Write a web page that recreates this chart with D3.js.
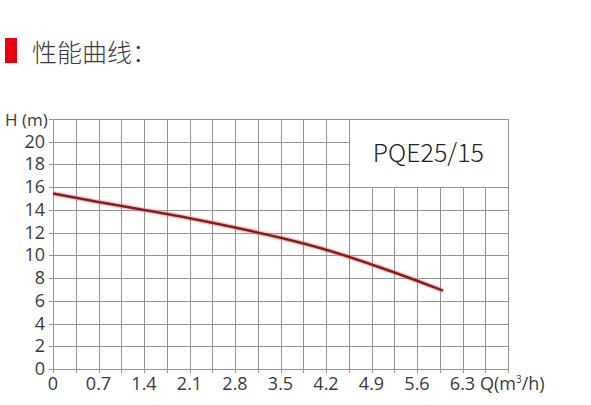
<!DOCTYPE html>
<html>
<head>
<meta charset="utf-8">
<script src="https://cdn.jsdelivr.net/npm/d3@7"></script>
<style>
  body { margin: 0; background: #fff; }
  text { font-family: "Open Sans", "Noto Sans CJK SC", sans-serif; fill: #3a3a3a; }
</style>
</head>
<body>
<script>
// performance curve data
var flow = [0, 0.7, 1.4, 2.1, 2.8, 3.5, 4.2, 4.9, 5.6, 6.0];
var head = [15.45, 14.7, 14.0, 13.27, 12.45, 11.55, 10.5, 9.2, 7.77, 6.89];
var xTicks = [0, 0.7, 1.4, 2.1, 2.8, 3.5, 4.2, 4.9, 5.6, 6.3];
var yTicks = [0, 2, 4, 6, 8, 10, 12, 14, 16, 18, 20];
var model = "PQE25/15";

var w = 591, h = 405;

var svg = d3.select("body").append("svg")
  .attr("width", w)
  .attr("height", h);

// title with the red marker
svg.append("rect")
  .attr("x", 5).attr("y", 38)
  .attr("width", 12).attr("height", 25)
  .attr("fill", "#e60012");
svg.append("text")
  .attr("x", 32).attr("y", 62)
  .style("font-family", "'Noto Sans CJK SC', sans-serif")
  .style("font-size", "25px")
  .style("font-weight", 300)
  .text("性能曲线：");

var xScale = d3.scaleLinear().domain([0, 7]).range([53, 508]);
var yScale = d3.scaleLinear().domain([0, 22]).range([369, 119]);

var gridColor = "#949494";

// vertical grid lines every 0.35
var xGrid = d3.range(0, 21).map(function(i) { return +(i * 0.35).toFixed(2); });
svg.append("g").selectAll("line")
  .data(xGrid)
  .enter().append("line")
  .attr("x1", function(d) { return Math.round(xScale(d)) + 0.5; })
  .attr("x2", function(d) { return Math.round(xScale(d)) + 0.5; })
  .attr("y1", yScale(22))
  .attr("y2", function(d) { return yScale(0) + 4; })
  .attr("stroke", gridColor);

// horizontal grid lines every 2
var yGrid = d3.range(0, 12).map(function(i) { return i * 2; });
svg.append("g").selectAll("line")
  .data(yGrid)
  .enter().append("line")
  .attr("x1", xScale(0) - 4)
  .attr("x2", xScale(7))
  .attr("y1", function(d) { return Math.round(yScale(d)) + 0.5; })
  .attr("y2", function(d) { return Math.round(yScale(d)) + 0.5; })
  .attr("stroke", gridColor);

// model box covering the grid top right
svg.append("rect")
  .attr("x", Math.round(xScale(4.55)) + 0.5)
  .attr("y", Math.round(yScale(22)) + 0.5)
  .attr("width", Math.round(xScale(7)) - Math.round(xScale(4.55)))
  .attr("height", Math.round(yScale(16)) - Math.round(yScale(22)))
  .attr("fill", "#fff")
  .attr("stroke", gridColor);
svg.append("text")
  .attr("x", (xScale(4.55) + xScale(7)) / 2)
  .attr("y", 162)
  .attr("text-anchor", "middle")
  .style("font-family", "'Noto Sans CJK SC', sans-serif")
  .style("font-size", "25px")
  .style("font-weight", 300)
  .style("fill", "#222")
  .text(model);

// tick labels
svg.append("g").selectAll("text")
  .data(yTicks)
  .enter().append("text")
  .attr("x", 45)
  .attr("y", function(d) { return yScale(d) + 6; })
  .attr("text-anchor", "end")
  .style("font-size", "18px")
  .text(function(d) { return d; });

svg.append("g").selectAll("text")
  .data(xTicks)
  .enter().append("text")
  .attr("x", function(d) { return xScale(d); })
  .attr("y", 390)
  .attr("text-anchor", "middle")
  .style("font-size", "18px")
  .text(function(d) { return d; });

// axis titles
svg.append("text")
  .attr("x", 5).attr("y", 126)
  .style("font-size", "17px")
  .text("H (m)");

var qLabel = svg.append("text")
  .attr("x", 480).attr("y", 390)
  .style("font-size", "18px");
qLabel.append("tspan").text("Q(m");
qLabel.append("tspan").attr("dy", -7).style("font-size", "10px").text("3");
qLabel.append("tspan").attr("dy", 7).text("/h)");

// the curve
var pts = d3.zip(flow, head);
var line = d3.line()
  .curve(d3.curveMonotoneX)
  .x(function(d) { return xScale(d[0]); })
  .y(function(d) { return yScale(d[1]); });

svg.append("path")
  .datum(pts)
  .attr("d", line)
  .attr("fill", "none")
  .attr("stroke", "#f28080")
  .attr("stroke-opacity", 0.45)
  .attr("stroke-width", 5);

svg.append("path")
  .datum(pts)
  .attr("d", line)
  .attr("fill", "none")
  .attr("stroke", "#8e1b1b")
  .attr("stroke-width", 2.5);
</script>
</body>
</html>
